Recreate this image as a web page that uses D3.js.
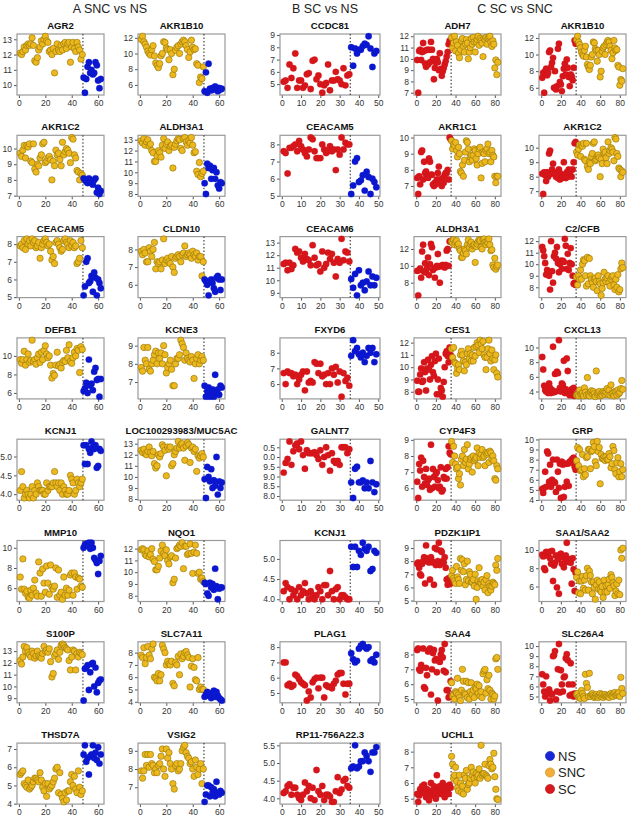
<!DOCTYPE html>
<html><head><meta charset="utf-8">
<script src="https://cdn.jsdelivr.net/npm/d3@7"></script>
<style>body{margin:0;background:#fff}svg{display:block}</style>
</head><body>
<svg id="c" width="629" height="816"></svg>
<script>
// ---------- data (sample order along x) ----------
const AGR2_SNC=[12.1,12.0,12.2,12.5,12.3,12.6,12.7,12.6,12.7,13.1, 12.6,11.6,11.5,11.8,12.3,12.5,12.9,12.7,13.0,13.2, 12.9,12.8,12.2,12.3,12.0,12.4,10.8,12.2,12.7,12.3, 12.2,12.6,12.3,12.7,12.8,12.4,12.7,12.8,11.5,12.5, 12.8,12.4,12.2,12.8,12.5,12.3,11.7,12.0];
const AGR2_NS=[10.5,9.5,10.4,11.2,11.5,10.8,11.0,10.7,10.8,11.5,11.3,10.3,9.8,10.4];
const AKR1B10_SNC=[11.8,12.2,11.5,11.2,10.8,10.3,10.0,9.8,10.5,11.0, 9.7,8.8,8.5,8.2,8.7,9.7,10.0,11.5,11.4,10.7, 10.5,9.2,10.5,10.0,7.3,8.0,10.4,10.8,11.0,10.0, 11.2,11.5,11.7,11.5,11.0,10.5,9.5,10.2,11.7,10.8, 10.5,10.6,8.7,8.5,6.3,7.0,6.8,8.3];
const AKR1B10_NS=[5.2,7.6,5.0,8.7,5.5,5.3,5.6,5.4,5.8,5.5,5.2,5.6,5.4,5.5];
const AKR1B10_SC=[7.2,7.8,5.4,8.0,8.3,7.5,7.8,10.3,10.5,8.5, 9.0,9.6,6.0,8.0,5.8,6.2,10.7,11.3,6.7,6.4, 5.6,7.4,8.3,8.9,7.6,9.4,8.4,7.3,6.2,7.6, 7.4,6.9,8.4,11.7,11.3];
const AKR1C2_SNC=[9.7,9.5,9.9,10.2,9.4,10.2,10.1,10.3,9.2,9.1, 10.3,8.7,8.5,9.0,8.9,9.4,9.6,10.3,10.4,9.1, 9.2,9.4,9.5,9.3,8.0,9.2,8.9,9.9,9.6,9.7, 9.3,8.9,10.4,9.6,9.8,10.0,9.9,9.7,9.1,10.7, 10.6,9.6,9.4,8.6,8.5,8.0,8.4,8.3];
const AKR1C2_NS=[8.1,8.0,7.9,7.8,8.1,8.0,7.8,7.7,8.0,8.1,7.2,7.5,7.1,7.3];
const AKR1C2_SC=[8.2,6.8,8.3,8.1,7.7,8.3,8.0,9.6,9.8,8.2, 8.5,8.9,8.3,8.2,8.0,8.1,7.9,8.5,7.8,8.2, 7.9,8.0,9.0,8.1,7.9,8.3,8.0,8.5,8.3,8.4, 8.0,8.5,9.0,10.3,10.4];
const ALDH3A1_SNC=[12.9,12.7,13.1,12.5,12.8,13.0,12.4,12.6,12.0,11.8, 11.0,11.0,11.5,12.0,11.8,11.4,12.5,13.1,12.2,12.6, 12.8,12.0,12.4,12.5,10.4,12.3,12.6,12.9,13.1,13.0, 12.2,12.0,13.1,13.2,12.8,12.5,12.9,12.7,13.2,12.5, 11.8,11.9,10.1,9.8,10.9,9.6,9.9,10.1];
const ALDH3A1_NS=[9.0,8.0,10.8,10.4,10.6,9.4,10.2,10.4,9.4,10.0,8.8,8.5,9.1,9.0];
const ALDH3A1_SC=[9.4,6.5,9.5,9.7,8.6,11.7,12.5,9.3,10.3,9.2, 9.7,11.0,8.9,10.2,12.6,12.2,9.5,9.7,8.6,9.8, 10.0,11.4,9.9,8.0,10.0,10.0,10.1,9.9,9.8,10.1, 11.8,12.0,10.0,12.9,12.9];
const CEACAM5_SNC=[7.9,8.0,7.8,8.2,7.7,8.3,8.0,8.2,7.9,8.3, 8.1,8.2,7.8,7.9,8.1,7.2,7.8,8.0,8.2,8.3, 8.1,7.9,8.0,7.6,7.1,7.3,6.9,8.1,8.2,8.0, 7.8,7.6,7.7,8.2,8.3,8.1,8.0,7.8,8.2,7.9, 8.1,7.8,7.9,6.9,7.0,7.2,8.2,7.8];
const CEACAM5_NS=[5.1,5.6,7.0,7.2,5.8,5.9,6.2,5.3,6.4,6.1,5.1,6.0,5.8,5.5];
const CEACAM5_SC=[7.6,7.5,6.3,7.8,7.8,7.9,8.0,7.6,8.2,7.9, 7.7,7.5,7.3,7.7,8.4,8.3,7.6,7.2,7.2,7.2, 8.0,7.7,7.5,7.6,7.9,7.6,7.7,6.5,7.7,7.4, 8.4,7.7,8.1,8.0,8.0];
const CLDN10_SNC=[7.9,7.7,8.0,7.8,7.3,7.3,8.1,7.9,7.6,8.0, 8.4,6.9,7.3,7.2,7.3,6.9,7.4,8.6,7.2,7.4, 7.5,7.3,7.2,7.6,7.0,6.7,7.5,7.6,7.7,7.6, 7.3,7.7,7.8,8.2,7.6,7.7,7.8,7.7,7.5,7.9, 7.7,7.6,7.8,7.4,7.6,7.6,6.5,7.3];
const CLDN10_NS=[6.3,6.2,6.0,5.4,6.2,6.3,6.1,5.8,5.6,6.4,6.5,6.3,5.7,6.3];
const DEFB1_SNC=[9.6,9.2,9.6,10.5,9.0,9.6,10.2,9.3,9.5,11.7, 9.4,9.6,9.1,9.8,10.2,9.3,10.4,9.6,10.6,11.1, 10.2,9.8,10.0,9.0,7.6,8.1,7.9,9.0,10.4,8.9, 9.1,8.7,9.3,9.5,9.4,10.6,9.8,11.2,9.4,9.2, 9.8,10.4,10.0,10.8,10.6,8.2,11.0,10.7];
const DEFB1_NS=[6.2,6.5,7.1,6.0,9.6,6.8,7.0,6.3,8.3,8.7,7.4,7.5,5.6,7.5];
const KCNE3_SNC=[7.8,7.6,8.9,8.2,8.0,8.9,7.7,7.6,8.0,8.2, 8.5,8.7,8.0,8.6,8.3,8.6,8.0,9.0,8.5,7.5, 7.8,8.0,8.2,7.7,6.8,6.8,8.0,8.3,8.3,8.5, 9.3,9.1,8.9,8.2,8.6,8.3,8.2,8.1,8.4,8.2, 7.2,8.0,8.3,8.5,8.0,8.2,8.4,8.2];
const KCNE3_NS=[6.8,6.2,6.5,6.7,6.2,6.4,6.6,6.2,7.4,6.5,6.6,6.3,6.8,6.7];
const KCNJ1_SNC=[4.1,4.6,4.2,3.9,4.0,4.1,4.0,3.9,4.0,4.2, 3.9,4.1,4.0,4.3,4.2,4.1,4.1,4.1,4.0,4.0, 4.3,4.1,4.2,4.2,4.2,4.3,4.6,4.3,4.2,4.3, 4.1,4.3,4.0,4.2,4.1,4.0,4.0,4.1,4.5,4.4, 4.3,4.0,4.1,4.4,4.3,4.2,4.3,4.4];
const KCNJ1_NS=[5.3,4.8,5.3,4.8,5.2,5.1,5.4,5.25,5.2,5.3,4.7,4.75,5.2,5.15];
const KCNJ1_SC=[4.2,4.4,4.3,4.0,4.25,4.1,4.2,4.0,4.3,4.1, 4.2,4.4,4.15,4.0,4.2,4.1,4.0,4.1,4.3,4.2, 4.0,4.35,4.35,4.1,4.7,4.2,4.0,4.25,4.3,4.0, 4.1,4.1,4.05,4.0,4.0];
const MUC5AC_SNC=[12.4,12.2,12.5,12.1,12.0,12.3,12.7,12.2,11.9,12.3, 11.2,10.8,11.0,12.0,11.8,12.1,12.9,12.7,12.4,10.1, 12.7,12.5,12.7,11.0,11.2,12.0,12.3,12.6,13.2,12.6, 12.9,13.0,12.6,11.5,12.8,13.1,12.9,11.3,12.6,12.7, 12.3,12.5,10.5,11.9,11.7,11.9,12.1,11.8];
const MUC5AC_NS=[9.8,8.1,10.9,10.0,9.6,10.7,9.0,9.7,9.2,11.8,8.4,9.6,9.0,9.5];
const MMP10_SNC=[7.1,5.9,8.9,5.9,5.5,5.7,5.1,5.0,5.8,5.3, 6.0,6.8,5.5,5.2,8.6,7.5,5.2,7.9,6.5,5.6, 8.2,6.5,5.4,8.3,6.1,5.9,6.2,8.0,5.1,7.8, 5.3,5.6,4.9,7.1,5.3,6.0,5.3,5.8,7.3,7.5, 5.3,7.5,7.1,5.9,7.0,6.9,6.2,6.1];
const MMP10_NS=[10.0,10.3,10.4,10.2,10.5,9.9,10.5,10.0,9.0,8.8,8.5,7.4,8.7,9.2];
const NQO1_SNC=[11.9,12.0,11.9,11.5,11.4,11.8,11.3,11.5,12.0,11.1, 10.9,10.2,10.2,10.5,11.2,11.8,12.3,11.6,11.4,11.9, 11.0,10.7,11.3,11.4,9.1,9.4,11.2,12.0,12.1,12.3, 12.2,12.5,10.3,12.2,12.2,11.5,11.6,12.4,11.6,9.9, 11.7,12.3,11.6,9.9,10.0,9.4,9.5,9.2];
const NQO1_NS=[9.1,9.0,8.2,8.0,9.1,8.7,9.0,8.5,10.3,8.8,7.7,8.6,8.7,8.7];
const S100P_SNC=[12.2,11.9,12.5,13.4,13.0,13.3,12.9,12.7,12.5,13.0, 12.8,12.4,12.6,13.0,12.6,12.5,12.4,12.8,13.4,13.0, 13.1,12.9,13.2,12.1,10.8,11.1,12.6,12.8,13.1,12.3, 12.9,13.5,13.6,13.5,13.3,13.2,13.1,12.2,11.4,12.5, 13.1,13.0,11.4,12.8,12.5,12.9,12.8,12.7];
const S100P_NS=[8.8,11.5,11.6,11.8,9.7,11.2,11.9,12.0,10.0,11.6,9.5,10.3,10.5,10.6];
const SLC7A11_SNC=[7.8,7.6,8.4,7.1,7.6,8.5,7.8,7.5,8.3,8.7, 6.0,5.9,5.7,6.3,5.7,6.2,8.6,8.3,8.0,7.0, 7.3,7.1,7.0,7.3,5.5,5.3,7.2,7.0,7.7,6.2, 7.9,7.5,7.7,8.0,8.1,7.8,7.6,5.2,6.9,7.5, 6.8,5.8,5.7,7.6,5.0,5.2,5.0,5.0];
const SLC7A11_NS=[4.4,4.6,4.8,4.5,4.7,4.3,4.6,4.9,4.4,4.8,4.5,4.3,4.2,4.1];
const THSD7A_SNC=[5.6,5.7,5.8,5.1,5.0,4.9,5.3,4.8,4.9,5.0, 5.2,5.4,5.4,5.3,5.2,5.7,5.3,4.9,4.7,5.1, 4.4,5.1,4.8,4.9,5.0,5.2,5.4,5.9,6.0,4.6, 5.7,4.5,4.3,4.1,4.6,4.2,4.7,4.7,5.2,5.6, 5.0,5.5,4.8,4.6,5.8,4.9,4.5,4.7];
const THSD7A_NS=[6.7,7.2,6.3,6.5,5.6,6.6,6.7,7.2,6.5,6.8,6.4,7.1,6.2,6.7];
const VSIG2_SNC=[7.9,7.5,7.9,8.8,8.2,8.8,8.1,8.8,8.3,8.2, 7.8,8.0,7.8,8.2,8.3,8.7,9.1,8.0,7.6,9.1, 8.6,8.9,8.3,8.0,7.2,6.9,8.2,8.3,7.9,8.0, 8.3,9.0,9.2,9.3,8.9,8.7,8.6,8.3,8.4,8.0, 7.6,8.5,8.1,7.7,8.0,8.3,7.2,8.0];
const VSIG2_NS=[6.2,6.6,7.1,7.1,6.5,7.0,6.7,6.9,6.5,7.3,6.7,6.6,6.8,6.7];
const CCDC81_SC=[5.2,5.3,4.7,6.6,5.5,6.3,7.5,4.7,5.3,5.3, 4.7,4.9,5.8,5.9,4.6,6.9,7.0,5.4,5.7,5.0, 4.3,4.9,5.1,6.6,4.5,5.3,5.3,6.0,5.4,5.3, 5.0,6.3,4.9,5.7,5.8];
const CCDC81_NS=[8.0,6.5,7.9,7.5,7.8,7.8,8.1,8.3,8.2,8.9,7.9,6.4,7.5,7.7];
const CEACAM6_SC=[11.3,11.4,10.8,11.4,10.9,11.2,12.5,12.2,12.3,11.8, 11.5,12.1,11.7,11.6,11.2,12.8,11.8,11.2,11.3,10.7, 12.3,11.0,11.3,12.2,11.7,12.1,11.4,10.3,11.7,11.4, 13.3,11.6,12.3,12.2,11.5];
const CEACAM6_NS=[10.1,9.4,10.5,8.8,10.8,9.6,9.8,9.2,9.9,10.7,9.6,10.3,9.6,10.2];
const FXYD6_SC=[6.7,6.0,6.8,6.7,6.7,6.5,6.6,6.0,6.3,6.6, 6.8,5.6,6.8,6.1,6.2,6.1,7.4,7.3,6.7,7.3, 6.5,6.6,6.0,6.7,6.0,7.0,6.6,7.1,6.1,6.8, 5.2,6.7,6.2,6.4,5.9];
const FXYD6_NS=[7.8,8.8,8.1,8.3,7.9,7.7,8.0,7.4,7.8,8.3,8.0,8.3,7.4,7.9];
const GALNT7_SC=[9.2,9.7,9.9,10.8,9.6,10.3,10.6,10.7,10.4,10.8, 10.1,9.4,10.35,10.2,10.2,10.2,10.25,10.1,9.9,10.35, 9.6,10.0,10.5,10.1,9.3,10.2,9.8,9.7,9.8,9.6, 10.5,10.5,10.5,10.2,10.4];
const GALNT7_NS=[8.7,7.9,9.4,9.5,8.7,8.7,8.8,8.4,8.7,8.4,9.8,8.7,8.2,8.6];
const PLAG1_SC=[7.0,7.0,5.5,5.6,5.4,5.5,6.2,6.1,5.9,5.7, 5.6,5.5,4.5,5.1,4.7,5.7,5.9,6.0,5.3,6.0, 6.0,4.7,5.5,5.4,5.4,5.3,5.6,5.8,6.2,6.3, 6.3,5.6,4.9,5.6,5.6];
const PLAG1_NS=[7.6,7.2,7.0,7.1,7.9,8.1,8.2,8.0,7.9,8.0,7.1,7.2,7.0,7.5];
const RP11_SC=[4.15,4.2,4.35,4.4,4.1,4.3,4.3,4.1,4.0,3.95, 4.1,4.45,4.2,4.35,4.0,4.3,3.95,4.8,4.2,4.1, 4.35,3.95,4.1,4.1,4.05,3.9,3.9,4.2,4.6,4.15, 4.25,4.5,4.55,4.35,4.3];
const RP11_NS=[4.85,4.9,5.5,4.85,4.9,5.05,5.05,5.3,5.2,5.05,4.75,5.3,5.3,5.45];
const ADH7_SC=[9.9,7.0,10.7,10.8,9.9,10.6,11.4,10.7,9.6,9.3, 10.8,9.5,10.8,9.7,11.5,10.8,10.0,8.2,9.2,9.7, 10.0,9.7,9.0,10.5,9.1,8.5,8.9,9.2,9.5,9.8, 10.2,10.6,11.3,11.6,11.6];
const ADH7_SNC=[11.9,11.0,11.4,12.0,10.7,11.5,11.2,10.5,10.1,10.8, 11.6,11.8,11.1,10.6,11.3,11.7,11.4,10.0,10.6,11.0, 11.8,11.3,11.9,11.5,10.6,11.5,11.7,12.0,11.2,11.8, 11.6,11.4,10.2,11.8,11.7,11.9,11.3,11.8,11.9,12.0, 11.5,11.1,11.6,11.3,9.2,9.9,8.6,9.7];
const AKR1C1_SC=[7.5,6.5,7.6,7.1,9.1,9.2,7.4,8.5,7.8,7.9, 7.6,7.5,8.7,8.5,7.7,7.7,7.1,7.0,7.2,7.1, 7.4,7.8,8.2,7.4,7.3,7.0,7.5,7.2,7.7,7.8, 7.8,8.0,7.4,10.0,9.9];
const AKR1C1_SNC=[9.8,9.3,9.6,9.5,9.7,9.2,8.8,9.4,9.0,7.9, 7.8,8.3,7.6,8.6,9.1,9.8,9.7,9.3,8.5,8.8, 8.9,8.6,8.9,9.3,9.2,8.7,8.3,9.0,9.3,9.4, 7.5,8.4,9.1,9.0,8.5,9.2,9.3,9.6,9.0,9.1, 8.5,9.2,8.9,8.8,7.6,7.2,7.6,7.6];
const C2CFB_SC=[11.5,11.2,10.7,10.1,9.1,9.5,9.3,9.0,7.8,12.0, 9.4,8.4,10.7,11.0,10.5,11.5,10.1,9.3,10.0,10.3, 9.6,10.3,10.2,12.2,11.6,9.6,10.9,9.5,10.1,11.4, 10.0,9.0,8.3,8.4,8.2];
const C2CFB_SNC=[8.9,8.2,9.0,8.7,9.5,8.7,10.0,10.4,10.3,9.0, 8.1,10.6,8.3,10.5,9.0,8.7,8.4,8.0,8.7,8.8, 8.5,7.7,9.0,8.5,8.3,7.3,7.9,8.4,9.3,8.7, 8.5,8.8,9.0,8.4,8.1,8.7,8.9,9.0,8.2,7.8, 8.7,8.0,9.1,7.6,7.8,9.6,10.1,9.7];
const CES1_SC=[8.9,8.0,8.0,9.4,9.9,8.8,8.9,10.4,9.6,8.1, 9.9,10.6,9.8,9.0,10.2,10.9,9.6,9.3,10.5,11.1, 7.8,9.0,10.7,7.8,8.3,8.1,7.6,8.8,10.0,11.1, 11.3,10.9,10.4,11.6,11.0];
const CES1_SNC=[11.5,10.8,11.6,10.4,10.3,9.5,9.9,10.2,9.8,11.0, 11.3,11.0,10.5,9.7,10.4,10.2,11.1,11.5,10.7,11.1, 10.5,11.0,10.5,11.6,10.9,11.7,12.0,11.8,11.2,12.2, 11.9,11.5,12.1,11.0,10.8,9.8,10.8,11.5,12.2,11.1, 10.5,11.4,10.7,9.8,10.6,11.0,9.5,9.2];
const CXCL13_SC=[8.7,7.0,4.8,4.2,4.0,4.4,3.8,5.1,4.5,3.8, 4.2,10.1,3.9,6.4,4.0,6.7,6.5,11.0,4.5,4.0, 5.1,4.9,8.2,3.8,4.3,8.5,6.8,3.7,3.5,3.8, 4.3,3.5,4.5,3.4,3.6];
const CXCL13_SNC=[3.5,3.6,3.4,4.2,3.6,3.7,3.8,3.4,4.5,3.9, 3.5,5.9,3.6,3.4,3.9,4.1,3.7,4.0,3.7,3.3, 6.8,3.6,3.8,4.0,3.4,3.7,3.5,4.0,3.8,3.6, 3.9,4.4,3.6,4.2,3.5,4.9,3.7,3.8,3.4,4.0, 3.9,3.5,4.2,3.7,3.9,4.4,5.5,4.3];
const CYP4F3_SC=[6.4,5.4,7.5,7.1,7.9,6.1,7.7,6.7,6.3,7.2, 6.2,6.5,6.6,5.9,8.7,6.0,7.2,6.7,6.1,6.9, 7.0,6.5,6.0,6.1,7.3,5.8,5.9,6.7,6.6,7.2, 6.6,7.3,8.6,8.2,8.1];
const CYP4F3_SNC=[8.9,7.6,8.6,8.0,7.5,7.2,7.3,6.6,6.9,6.2, 7.8,8.0,7.4,8.4,7.6,7.8,8.7,7.2,7.5,7.8, 7.9,7.0,8.0,7.7,7.8,7.9,8.5,7.4,8.2,7.9, 8.1,8.4,7.9,8.0,7.4,8.2,8.1,8.2,7.6,8.3, 8.2,7.8,8.0,7.7,6.6,6.5,7.4,7.2];
const GRP_SC=[5.1,4.7,5.2,6.8,5.3,8.8,8.6,5.8,7.5,5.3, 6.0,8.0,5.8,5.7,4.8,8.0,6.8,5.2,7.6,4.2, 7.8,7.5,4.3,5.3,7.6,5.8,7.6,5.4,7.8,7.7, 8.0,8.1,8.2,7.3,7.0];
const GRP_SNC=[7.9,9.2,7.4,9.0,6.9,7.0,8.5,6.3,7.1,6.5, 8.2,8.3,9.0,9.0,7.1,8.8,8.9,9.7,9.3,7.8, 7.4,9.8,8.8,9.2,5.6,8.5,8.1,8.1,8.3,7.9, 8.3,8.0,8.0,8.6,8.3,7.2,7.6,9.3,8.9,7.0, 6.6,7.7,8.2,6.3,6.8,7.6,6.3,7.0];
const PDZK1IP1_SC=[7.8,7.9,7.5,7.0,6.9,7.8,8.0,8.3,6.3,9.2, 8.0,8.2,7.9,6.6,8.3,8.0,7.9,6.2,9.0,7.7, 8.9,8.0,9.4,7.7,8.8,8.7,8.0,7.9,8.3,7.5, 6.6,6.2,6.7,6.5,6.3];
const PDZK1IP1_SNC=[6.9,7.3,6.7,6.5,6.3,7.6,6.8,6.6,6.3,8.2, 7.3,8.1,7.2,7.8,6.2,6.6,8.0,6.5,7.2,7.0, 6.4,6.4,6.6,6.1,7.0,5.1,6.0,6.5,7.5,6.4, 6.3,6.6,6.1,6.4,5.8,6.6,6.9,5.6,6.3,6.1, 5.8,6.1,6.4,6.3,6.2,7.7,7.3,8.2];
const SAA12_SC=[9.5,9.3,8.0,7.8,9.8,9.4,9.7,9.8,9.1,8.5, 9.9,6.6,8.3,8.6,9.4,5.9,9.0,5.2,9.5,9.6, 8.5,9.2,8.1,8.6,9.4,10.8,8.9,8.7,9.0,8.6, 6.3,9.1,7.9,5.5,7.5];
const SAA12_SNC=[7.0,7.6,5.3,6.6,5.2,6.6,7.1,5.8,6.7,5.6, 7.2,8.0,5.6,7.7,7.2,6.5,5.2,6.5,5.9,4.6, 6.2,6.7,5.7,6.5,5.7,5.4,6.0,4.8,6.7,5.4, 6.1,5.4,6.2,6.8,5.8,7.3,7.0,6.4,6.1,5.0, 5.5,6.3,5.2,6.7,5.1,10.0,9.1,10.2];
const SAA4_SC=[8.3,8.4,7.0,6.9,7.3,7.1,8.4,5.8,5.7,7.1, 6.6,8.2,8.3,8.4,5.3,7.0,8.1,8.3,7.6,7.7, 6.8,4.9,7.6,7.5,8.0,8.3,7.8,6.9,8.7,6.8, 5.6,5.6,5.1,5.2,6.2];
const SAA4_SNC=[6.1,5.2,5.3,5.0,5.5,5.4,6.4,5.3,5.1,4.9, 5.6,7.0,6.2,5.4,5.3,6.2,5.1,6.1,5.0,5.5, 6.1,5.3,5.6,5.1,5.8,5.7,6.0,5.4,5.9,5.2, 5.5,5.1,6.7,6.9,7.0,5.4,6.3,5.7,6.6,5.6, 5.0,5.4,5.3,5.0,5.2,7.7,7.8,7.0];
const SLC26A4_SC=[7.2,6.2,5.5,5.0,7.0,5.4,5.3,5.7,4.6,5.3, 5.2,9.0,9.1,9.5,4.7,5.5,7.7,10.2,5.4,7.6, 6.2,5.5,6.9,7.0,8.8,9.2,8.6,6.2,5.1,8.3, 5.2,6.2,5.0,5.3,5.1];
const SLC26A4_SNC=[5.2,5.3,4.9,5.0,4.8,5.6,5.3,5.0,4.8,7.2, 6.3,5.9,5.0,7.3,5.0,5.2,5.3,5.1,4.9,5.0, 5.2,5.0,4.9,5.1,5.3,5.0,5.2,4.9,5.1,5.2, 5.0,5.1,5.0,4.9,5.2,5.3,5.1,5.0,5.3,5.4, 5.1,5.2,5.3,5.4,5.0,6.9,5.8,5.3];
const UCHL1_SC=[5.3,4.8,5.2,5.6,5.4,5.8,5.5,5.9,5.3,5.1, 5.6,5.3,4.9,5.5,6.0,5.4,5.2,5.8,5.5,5.0, 6.5,5.7,5.3,5.8,5.5,5.3,6.0,5.6,5.1,5.5, 5.8,5.5,5.3,5.9,5.7];
const UCHL1_SNC=[7.7,7.2,6.3,6.5,7.0,6.1,5.7,5.5,6.5,6.0, 5.4,5.8,5.3,6.5,6.3,6.8,5.6,5.9,6.0,6.3, 7.0,6.5,6.7,6.3,6.0,6.6,6.4,6.5,6.9,6.3, 8.4,6.5,6.6,6.6,7.2,6.5,6.4,6.3,7.1,7.5, 7.2,6.9,7.0,7.9,6.4,5.6,5.0,4.95];

const headers=["A  SNC vs NS","B SC vs NS","C SC vs SNC"];
const xTicksA=[0,20,40,60], xTicksB=[0,10,20,30,40,50], xTicksC=[0,20,40,60,80];
const legendItems=["NS","SNC","SC"];

// panels: title, column, row, left group, right group, y ticks
const panels=[
 ["AGR2",0,0,["SNC",AGR2_SNC],["NS",AGR2_NS],[10,11,12,13]],
 ["AKR1C2",0,1,["SNC",AKR1C2_SNC],["NS",AKR1C2_NS],[7,8,9,10]],
 ["CEACAM5",0,2,["SNC",CEACAM5_SNC],["NS",CEACAM5_NS],[5,6,7,8]],
 ["DEFB1",0,3,["SNC",DEFB1_SNC],["NS",DEFB1_NS],[6,8,10]],
 ["KCNJ1",0,4,["SNC",KCNJ1_SNC],["NS",KCNJ1_NS],[4.0,4.5,5.0]],
 ["MMP10",0,5,["SNC",MMP10_SNC],["NS",MMP10_NS],[6,8,10]],
 ["S100P",0,6,["SNC",S100P_SNC],["NS",S100P_NS],[9,10,11,12,13]],
 ["THSD7A",0,7,["SNC",THSD7A_SNC],["NS",THSD7A_NS],[4,5,6,7]],
 ["AKR1B10",1,0,["SNC",AKR1B10_SNC],["NS",AKR1B10_NS],[6,8,10,12]],
 ["ALDH3A1",1,1,["SNC",ALDH3A1_SNC],["NS",ALDH3A1_NS],[8,9,10,11,12,13]],
 ["CLDN10",1,2,["SNC",CLDN10_SNC],["NS",CLDN10_NS],[6,7,8]],
 ["KCNE3",1,3,["SNC",KCNE3_SNC],["NS",KCNE3_NS],[7,8,9]],
 ["LOC100293983/MUC5AC",1,4,["SNC",MUC5AC_SNC],["NS",MUC5AC_NS],[8,9,10,11,12,13]],
 ["NQO1",1,5,["SNC",NQO1_SNC],["NS",NQO1_NS],[8,9,10,11,12]],
 ["SLC7A11",1,6,["SNC",SLC7A11_SNC],["NS",SLC7A11_NS],[4,5,6,7,8]],
 ["VSIG2",1,7,["SNC",VSIG2_SNC],["NS",VSIG2_NS],[7,8,9]],
 ["CCDC81",2,0,["SC",CCDC81_SC],["NS",CCDC81_NS],[5,6,7,8,9]],
 ["CEACAM5",2,1,["SC",CEACAM5_SC],["NS",CEACAM5_NS],[5,6,7,8]],
 ["CEACAM6",2,2,["SC",CEACAM6_SC],["NS",CEACAM6_NS],[9,10,11,12,13]],
 ["FXYD6",2,3,["SC",FXYD6_SC],["NS",FXYD6_NS],[6,7,8]],
 ["GALNT7",2,4,["SC",GALNT7_SC],["NS",GALNT7_NS],[8.0,8.5,9.0,9.5,10.0,10.5]],
 ["KCNJ1",2,5,["SC",KCNJ1_SC],["NS",KCNJ1_NS],[4.0,4.5,5.0]],
 ["PLAG1",2,6,["SC",PLAG1_SC],["NS",PLAG1_NS],[5,6,7,8]],
 ["RP11-756A22.3",2,7,["SC",RP11_SC],["NS",RP11_NS],[4.0,4.5,5.0,5.5]],
 ["ADH7",3,0,["SC",ADH7_SC],["SNC",ADH7_SNC],[7,8,9,10,11,12]],
 ["AKR1C1",3,1,["SC",AKR1C1_SC],["SNC",AKR1C1_SNC],[7,8,9,10]],
 ["ALDH3A1",3,2,["SC",ALDH3A1_SC],["SNC",ALDH3A1_SNC],[8,10,12]],
 ["CES1",3,3,["SC",CES1_SC],["SNC",CES1_SNC],[8,9,10,11,12]],
 ["CYP4F3",3,4,["SC",CYP4F3_SC],["SNC",CYP4F3_SNC],[6,7,8,9]],
 ["PDZK1IP1",3,5,["SC",PDZK1IP1_SC],["SNC",PDZK1IP1_SNC],[5,6,7,8,9]],
 ["SAA4",3,6,["SC",SAA4_SC],["SNC",SAA4_SNC],[5,6,7,8]],
 ["UCHL1",3,7,["SC",UCHL1_SC],["SNC",UCHL1_SNC],[5,6,7,8]],
 ["AKR1B10",4,0,["SC",AKR1B10_SC],["SNC",AKR1B10_SNC],[6,8,10,12]],
 ["AKR1C2",4,1,["SC",AKR1C2_SC],["SNC",AKR1C2_SNC],[7,8,9,10]],
 ["C2/CFB",4,2,["SC",C2CFB_SC],["SNC",C2CFB_SNC],[8,9,10,11,12]],
 ["CXCL13",4,3,["SC",CXCL13_SC],["SNC",CXCL13_SNC],[4,6,8,10]],
 ["GRP",4,4,["SC",GRP_SC],["SNC",GRP_SNC],[4,5,6,7,8,9,10]],
 ["SAA1/SAA2",4,5,["SC",SAA12_SC],["SNC",SAA12_SNC],[6,8,10]],
 ["SLC26A4",4,6,["SC",SLC26A4_SC],["SNC",SLC26A4_SNC],[5,6,7,8,9,10]]
];

// ---------- layout & style ----------
const colX=[17,138,280,414,539], colW=[87,87,100,87,87];
const top0=34, rowStep=101.3, boxH=61;
const colXTicks=[xTicksA,xTicksA,xTicksB,xTicksC,xTicksC];
const fills={NS:"#0B17CF",SNC:"#EDB81E",SC:"#D5161A"};
const strokes={NS:"#0B17CF",SNC:"#8F7208",SC:"#D5161A"};
const FONT="'Liberation Sans',Arial,Helvetica,sans-serif";

const svg=d3.select("#c").style("font-family",FONT);
svg.append("rect").attr("width",629).attr("height",816).attr("fill","#fff");

const hdrX=[110,325,515];
headers.forEach((h,i)=>svg.append("text").attr("x",hdrX[i]).attr("y",13)
  .attr("text-anchor","middle").attr("font-size",12.5).attr("fill","#222").text(h));

panels.forEach(p=>{
  const [title,col,row,L,R,yt]=p;
  const nL=L[1].length, nR=R[1].length, n=nL+nR;
  const all=L[1].concat(R[1]);
  const [mn,mx]=d3.extent(all);
  const py=(mx-mn)*0.04, px=(n-1)*0.04;
  const w=colW[col];
  const x=d3.scaleLinear().domain([1-px,n+px]).range([0,w]);
  const y=d3.scaleLinear().domain([mn-py,mx+py]).range([boxH,0]);
  const g=svg.append("g").attr("transform",`translate(${colX[col]},${top0+row*rowStep})`);
  g.append("text").attr("x",w/2).attr("y",-5).attr("text-anchor","middle")
    .attr("font-size",9.6).attr("font-weight","bold").attr("fill","#111").text(title);
  const fmt = title==="GALNT7" ? (d=>(d>=10?d-10:d).toFixed(1))
            : (yt.some(v=>v%1!==0) ? d3.format(".1f") : d3.format("d"));
  const ya=g.append("g").call(d3.axisLeft(y).tickValues(yt).tickSize(3).tickPadding(2).tickFormat(fmt));
  const xa=g.append("g").attr("transform",`translate(0,${boxH})`)
    .call(d3.axisBottom(x).tickValues(colXTicks[col]).tickSize(3).tickPadding(2));
  [ya,xa].forEach(a=>{
    a.select(".domain").remove();
    a.selectAll("line").attr("stroke","#555");
    a.selectAll("text").attr("font-size",8.5).attr("fill","#333").attr("font-family",FONT);
  });
  g.append("rect").attr("width",w).attr("height",boxH).attr("fill","none")
    .attr("stroke","#999").attr("stroke-width",1.2);
  g.append("line").attr("x1",x(nL+0.5)).attr("x2",x(nL+0.5)).attr("y1",0).attr("y2",boxH)
    .attr("stroke","#333").attr("stroke-width",1.1).attr("stroke-dasharray","1.5,2");
  const pts=L[1].map((v,i)=>({g:L[0],x:i+1,v})).concat(R[1].map((v,i)=>({g:R[0],x:nL+i+1,v})));
  g.selectAll("circle.pt").data(pts).join("circle").attr("class","pt")
    .attr("cx",d=>x(d.x)).attr("cy",d=>y(d.v)).attr("r",3.2)
    .attr("fill",d=>fills[d.g]).attr("stroke",d=>strokes[d.g]).attr("stroke-width",d=>d.g==="SNC"?0.6:0.3);
});

// legend
const legFill={NS:"#1727D8",SNC:"#F3AE38",SC:"#D81A1E"};
const legStroke={NS:"#1020B0",SNC:"#C98A20",SC:"#B01015"};
legendItems.forEach((k,i)=>{
  const yy=756+i*16.5;
  svg.append("circle").attr("cx",550).attr("cy",yy).attr("r",4.6)
    .attr("fill",legFill[k]).attr("stroke",legStroke[k]).attr("stroke-width",0.6);
  svg.append("text").attr("x",558).attr("y",yy+4.6).attr("font-size",13).attr("fill","#222").text(k);
});
</script>
</body></html>
